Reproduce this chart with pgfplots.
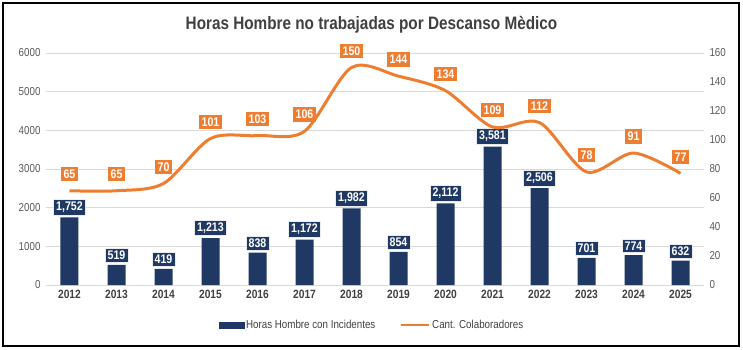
\documentclass[border=0pt]{standalone}
\usepackage{fontspec}
\setmainfont[FakeStretch=0.85]{Liberation Sans}
\usepackage{pgfplots}
\pgfplotsset{compat=1.18}
\definecolor{navy}{HTML}{1F3864}
\definecolor{org}{HTML}{ED7D31}
\definecolor{tickc}{HTML}{595959}
\definecolor{titc}{HTML}{404040}
\begin{document}
\begin{tikzpicture}[x=1pt,y=1pt]
\useasboundingbox (-46,-65) rectangle (697,285);
\draw[black, line width=1.6pt] (-43,-61) rectangle (693,282);
\node[font=\bfseries\fontsize{18}{21}\selectfont, text=titc] at (325.5,260) {Horas Hombre no trabajadas por Descanso Mèdico};
\begin{axis}[
  at={(0,0)}, anchor=south west, scale only axis,
  width=658pt, height=232pt,
  xmin=-0.5, xmax=13.5, ymin=0, ymax=6000,
  xtick={0,...,13},
  xticklabels={2012,2013,2014,2015,2016,2017,2018,2019,2020,2021,2022,2023,2024,2025},
  ytick={0,1000,...,6000},
  axis line style={draw=none}, tick style={draw=none},
  ymajorgrids, grid style={gray!30, line width=0.9pt},
  scaled y ticks=false,
  y tick label style={font=\fontsize{11.5}{13}\selectfont, text=tickc, /pgf/number format/1000 sep={}, /pgf/number format/assume math mode=true, xshift=-2pt},
  x tick label style={font=\bfseries\fontsize{12}{14}\selectfont, text=titc, /pgf/number format/assume math mode=true, yshift=-2pt},
  axis y line*=left,
]
\addplot[ybar, bar width=18pt, fill=navy, draw=none,
  nodes near coords={\pgfmathprintnumber[fixed,precision=0,1000 sep={,},assume math mode=true]{\pgfplotspointmeta}},
  every node near coord/.append style={fill=navy, text=white, draw=white!85!gray, line width=0.6pt, font=\bfseries\fontsize{12.5}{14}\selectfont, inner sep=2.6pt, anchor=south, yshift=2pt}]
coordinates {(0,1752) (1,519) (2,419) (3,1213) (4,838) (5,1172) (6,1982) (7,854) (8,2112) (9,3581) (10,2506) (11,701) (12,774) (13,632)};
\end{axis}
\begin{axis}[
  at={(0,0)}, anchor=south west, scale only axis,
  width=658pt, height=232pt,
  xmin=-0.5, xmax=13.5, ymin=0, ymax=160,
  ytick={0,20,...,160},
  axis y line*=right, hide x axis,
  axis line style={draw=none}, tick style={draw=none},
  y tick label style={font=\fontsize{11.5}{13}\selectfont, text=tickc, /pgf/number format/assume math mode=true, xshift=2pt},
  legend style={at={(326pt,-40pt)}, anchor=center, draw=none, fill=none, legend columns=2,
    font=\fontsize{11.5}{13}\selectfont, text=titc,
    /tikz/every even column/.append style={column sep=22pt}},
]
\addlegendimage{legend image code/.code={\fill[navy] (0pt,-3pt) rectangle (25pt,3pt);}}
\addlegendentry{Horas Hombre con Incidentes}
\addplot[smooth, color=org, line width=3pt,
  legend image code/.code={\draw[org, line width=2.8pt] (0pt,0pt) -- (28pt,0pt);},
  nodes near coords={\pgfmathprintnumber[fixed,precision=0,assume math mode=true]{\pgfplotspointmeta}},
  every node near coord/.append style={fill=org, text=white, font=\bfseries\fontsize{12.5}{14}\selectfont, inner sep=2.8pt, anchor=south, yshift=8pt}]
coordinates {(0,65) (1,65) (2,70) (3,101) (4,103) (5,106) (6,150) (7,144) (8,134) (9,109) (10,112) (11,78) (12,91) (13,77)};
\addlegendentry{Cant. Colaboradores}
\end{axis}
\end{tikzpicture}
\end{document}
